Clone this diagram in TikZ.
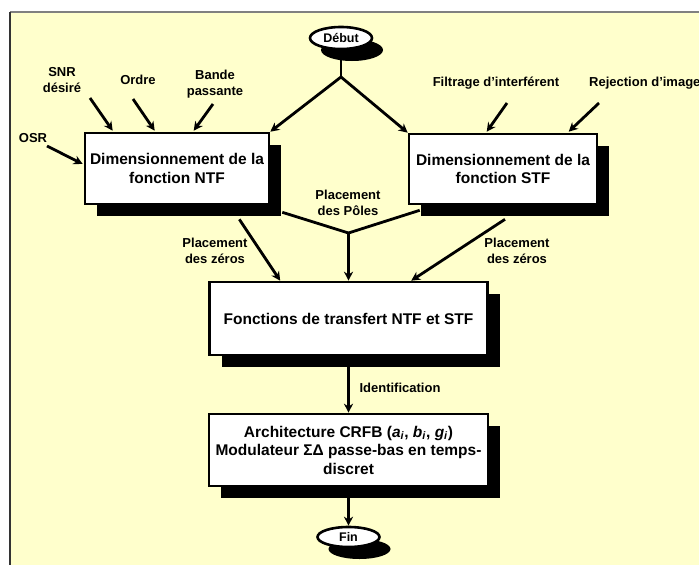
\documentclass[tikz,border=0pt]{standalone}
\usepackage{fontspec}
\setmainfont{Liberation Sans}
\usetikzlibrary{shadows,shapes.geometric,calc,arrows.meta}
\definecolor{bgyellow}{RGB}{255,255,204}
\begin{document}
\begin{tikzpicture}[x=1pt,y=-1pt,
  box/.style={draw=black, line width=2.6pt, fill=white, rectangle, align=center,
    font=\fontsize{15.5}{18.5}\selectfont\bfseries, inner sep=0pt,
    drop shadow={shadow xshift=12pt, shadow yshift=-12pt, fill=black, opacity=1}},
  term/.style={ellipse, draw=black, line width=2.6pt, fill=white, inner sep=0pt,
    font=\fontsize{12.5}{14}\selectfont\bfseries,
    drop shadow={shadow xshift=11pt, shadow yshift=-12pt, fill=black, opacity=1}},
  lbl/.style={align=center, font=\fontsize{13}{16.5}\selectfont\bfseries, inner sep=0pt},
  conn/.style={line width=2.8pt},
  arr/.style={conn, -{Stealth[length=9pt,width=9pt]}}
]
\useasboundingbox (0,0) rectangle (699,565);
\fill[bgyellow] (10,12) rectangle (699,565);
\draw[gray, line width=1.5pt] (10,12) -- (699,12);
\draw[black!80, line width=1.5pt] (10,12) -- (10,565);

% nodes
\node[term, minimum width=62pt, minimum height=22pt] (debut) at (341,38) {Début};
\node[box, minimum width=184pt, minimum height=71pt] (ntf) at (177,168.5) {Dimensionnement de la\\fonction NTF};
\node[box, minimum width=188pt, minimum height=70pt] (stf) at (503,169) {Dimensionnement de la\\fonction STF};
\node[box, minimum width=278pt, minimum height=73pt] (fonc) at (348.5,318.5) {Fonctions de transfert NTF et STF};
\node[box, minimum width=279pt, minimum height=72pt] (arch) at (348.5,450) {Architecture CRFB (\textit{a}\textsubscript{\textit{i}}, \textit{b}\textsubscript{\textit{i}}, \textit{g}\textsubscript{\textit{i}})\\Modulateur ΣΔ passe-bas en temps-\\discret};
\node[term, minimum width=62pt, minimum height=20pt] (fin) at (348.5,537) {Fin};

% labels
\node[lbl] (snr) at (62,80) {SNR\\désiré};
\node[lbl] (ordre) at (138,80) {Ordre};
\node[lbl] (bande) at (215,84) {Bande\\passante};
\node[lbl] (osr) at (33,138) {OSR};
\node[lbl] (filt) at (496,83) {Filtrage d’interférent};
\node[lbl, anchor=west] (rej) at (589,83) {Rejection d’image};
\node[lbl] (poles) at (348,203) {Placement\\des Pôles};
\node[lbl] (zl) at (215,251) {Placement\\des zéros};
\node[lbl] (zr) at (517,251) {Placement\\des zéros};
\node[lbl] (ident) at (400,388) {Identification};

% coordinates
\coordinate (jd) at (341,77);
\coordinate (jp) at (348.5,233);
\coordinate (s1) at (90,98);
\coordinate (s2) at (133,99);
\coordinate (s3) at (213,104);
\coordinate (s4) at (47,146);
\coordinate (s5) at (507,103);
\coordinate (s6) at (599,103);

% connectors
\draw[conn] (debut) -- (jd);
\draw[arr] (jd) -- (ntf.north east);
\draw[arr] (jd) -- (stf.north west);
\draw[arr] (s1) -- ($(ntf.north west)+(29,-1)$);
\draw[arr] (s2) -- ($(ntf.north west)+(71,-1)$);
\draw[arr] (s3) -- ($(ntf.north west)+(110,-1)$);
\draw[arr] (s4) -- ($(ntf.west)+(-1,-4.5)$);
\draw[arr] (s5) -- ($(stf.north west)+(79,-1)$);
\draw[arr] (s6) -- ($(stf.north west)+(161,-1)$);
\draw[conn] ($(ntf.south east)+(12,7)$) -- (jp) -- ($(stf.south west)+(12,5)$);
\draw[arr] (jp) -- (fonc.north);
\draw[arr] ($(ntf.south east)+(-31,14)$) -- ($(fonc.north west)+(72,0)$);
\draw[arr] ($(stf.south)+(2,14)$) -- ($(fonc.north west)+(203,0)$);
\draw[arr] (fonc.south) -- (arch.north);
\draw[arr] (arch.south) -- (fin.north);
\end{tikzpicture}
\end{document}
